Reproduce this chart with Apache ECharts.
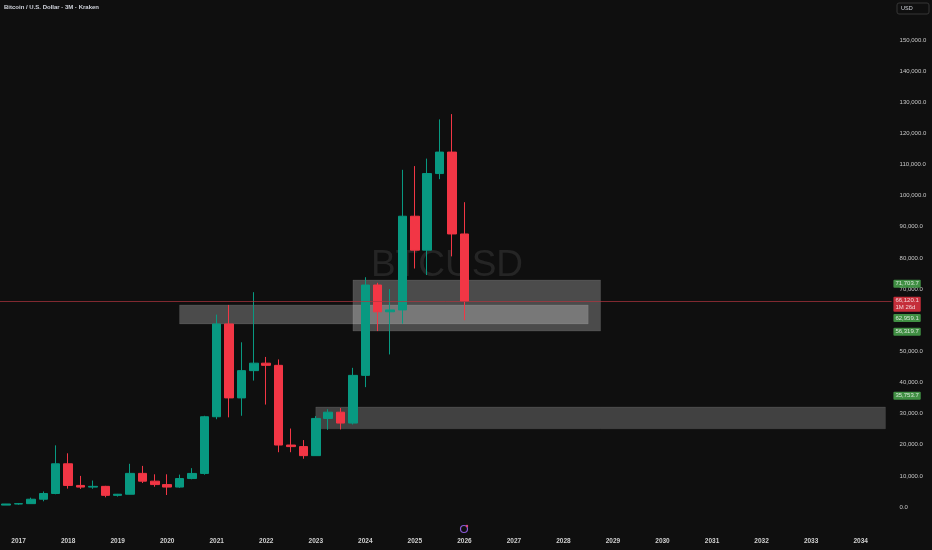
<!DOCTYPE html>
<html>
<head>
<meta charset="utf-8">
<script src="https://cdn.jsdelivr.net/npm/echarts@6/dist/echarts.min.js"></script>
<style>
html,body{margin:0;padding:0;background:#0f0f0f;}
#chart{width:932px;height:550px;}
</style>
</head>
<body>
<div id="chart"></div>
<script>
// ---- data ----
const firstYear = 2016, firstQuarter = 4, categoryCount = 72;
const opens  = [609, 964, 1079, 2500, 4340, 13880, 6930, 6390, 6630, 3740, 4100, 10800, 8300, 7200, 6400, 9140, 10780, 28990, 58800, 35040, 43800, 46200, 45500, 19900, 19400, 16500, 28450, 30450, 26960, 42280, 71300, 62700, 63300, 93400, 82500, 107100, 114000, 87700];
const highs  = [979, 1290, 3000, 4980, 19800, 17250, 9990, 8500, 6800, 4200, 13880, 13200, 10500, 10500, 10400, 12480, 29300, 61800, 64900, 52900, 69000, 48200, 47400, 25200, 21500, 29200, 31400, 31800, 44700, 73800, 72000, 70000, 108300, 109500, 111900, 124500, 126200, 97900];
const lows   = [600, 750, 1000, 1830, 4100, 5900, 5800, 5850, 3120, 3350, 4050, 7700, 6500, 3850, 6150, 8900, 10370, 28200, 28800, 29300, 40600, 32900, 17600, 17600, 15500, 16500, 24800, 24900, 26500, 38500, 56500, 49000, 58900, 76600, 74500, 105300, 80500, 60000];
const closes = [964, 1079, 2500, 4340, 13880, 6930, 6390, 6630, 3740, 4100, 10800, 8300, 7200, 6400, 9140, 10780, 28990, 58800, 35040, 43800, 46200, 45500, 19900, 19400, 16500, 28450, 30450, 26960, 42280, 71300, 62700, 63300, 93400, 82500, 107100, 114000, 87700, 66120.1];
const yTicks = [0, 10000, 20000, 30000, 40000, 50000, 60000, 70000, 80000, 90000, 100000, 110000, 120000, 130000, 140000, 150000];
const hiddenTicks = [60000];
// zones: [startCategory, endCategory, low, high]
const zoneStart = ['2020-Q2', '2023-Q4', '2023-Q1'];
const zoneEnd   = ['2028-Q3', '2028-Q4', '2034-Q3'];
const zoneLow   = [58800, 56500, 25100];
const zoneHigh  = [64900, 72900, 32100];
// price tags
const tagValues = [71703.7, 66120.1, 62959.1, 56319.7, 35753.7];
const tagExtra  = ['', '1M 26d', '', '', ''];
const currentPrice = 66120.1;
const title = 'Bitcoin / U.S. Dollar · 3M · Kraken';
const watermark = 'BTCUSD';

// ---- build ----
const categories = [];
{
  let y = firstYear, q = firstQuarter;
  for (let i = 0; i < categoryCount; i++) {
    categories.push(y + '-Q' + q);
    q++; if (q > 4) { q = 1; y++; }
  }
}
const candleData = opens.map((o, i) => [o, closes[i], lows[i], highs[i]]);
const fmt = v => Number(v).toLocaleString('en-US', {minimumFractionDigits: 1, maximumFractionDigits: 1});

const UP = '#089981', DOWN = '#f23645';
const tagColors = ['#4caf50', DOWN, '#4caf50', '#4caf50', '#4caf50'];
const tagOffsets = [[0,0],[0,3],[0,7],[0,0],[0,0]];
const lastCat = categories[categories.length - 1];

const chart = echarts.init(document.getElementById('chart'), null, {renderer: 'canvas'});
chart.setOption({
  backgroundColor: '#0f0f0f',
  animation: false,
  grid: {left: -2.6, right: 40.4, top: 40, bottom: 43},
  xAxis: {
    type: 'category',
    data: categories,
    boundaryGap: true,
    axisLine: {show: false},
    axisTick: {show: false},
    splitLine: {show: false},
    axisLabel: {
      interval: (i, v) => v.endsWith('Q1'),
      formatter: v => v.slice(0, 4),
      color: '#d0d0d0',
      fontSize: 6.5,
      fontWeight: 'bold',
      fontFamily: 'Liberation Sans',
      margin: 31
    }
  },
  yAxis: {
    type: 'value',
    position: 'right',
    min: 0,
    max: 150000,
    interval: 10000,
    axisLine: {show: false},
    axisTick: {show: false},
    splitLine: {show: false},
    axisLabel: {
      color: '#c8c8c8',
      fontSize: 6,
      fontFamily: 'Liberation Sans',
      margin: 8,
      align: 'left',
      formatter: v => (yTicks.includes(v) && !hiddenTicks.includes(v)) ? fmt(v) : ''
    }
  },
  graphic: [
    {type: 'text', left: 4, top: 4, z: 10, style: {text: title, fill: '#d1d4dc', fontSize: 6, fontWeight: 'bold', fontFamily: 'Liberation Sans'}},
    {type: 'text', x: 447, y: 266, z: 0, style: {text: watermark, fill: '#252525', fontSize: 37, fontFamily: 'Liberation Sans', textAlign: 'center', textVerticalAlign: 'middle'}},
    {type: 'rect', x: 897, y: 3, z: 10, shape: {width: 32, height: 11, r: 2}, style: {fill: '#0f0f0f', stroke: '#363636', lineWidth: 1}},
    {type: 'text', x: 901, y: 8.5, z: 11, style: {text: 'USD', fill: '#d1d4dc', fontSize: 5.5, fontFamily: 'Liberation Sans', textVerticalAlign: 'middle'}},
    {type: 'circle', x: 464, y: 529, z: 10, shape: {r: 3.5}, style: {fill: 'none', stroke: '#8a5bd6', lineWidth: 1.2}},
    {type: 'circle', x: 467, y: 526, z: 11, shape: {r: 1.2}, style: {fill: '#e0457b'}}
  ],
  series: [
    {
      type: 'line',
      data: [],
      z: 1,
      silent: true,
      markArea: {
        silent: true,
        data: zoneStart.map((s, i) => [
          {coord: [s, zoneHigh[i]], itemStyle: {color: i === 2 ? 'rgba(255,255,255,0.21)' : 'rgba(255,255,255,0.25)', borderColor: 'rgba(255,255,255,0.08)', borderWidth: 1}},
          {coord: [zoneEnd[i], zoneLow[i]]}
        ])
      },
      markLine: {
        silent: true,
        symbol: 'none',
        label: {show: false},
        data: [{yAxis: currentPrice, lineStyle: {color: '#b0343f', width: 1, type: 'solid', opacity: 0.7}}]
      }
    },
    {
      type: 'candlestick',
      data: candleData,
      z: 3,
      barWidth: 9,
      itemStyle: {color: UP, color0: DOWN, borderColor: UP, borderColor0: DOWN, borderWidth: 1}
    },
    {
      type: 'scatter',
      z: 5,
      symbolSize: 0,
      silent: true,
      data: tagValues.map((v, i) => ({
        value: [lastCat, v],
        label: {
          show: true,
          position: 'right',
          distance: 8,
          offset: tagOffsets[i],
          formatter: tagExtra[i] ? fmt(v) + '\n' + tagExtra[i] : fmt(v),
          backgroundColor: tagColors[i],
          color: '#ffffff',
          fontSize: 6,
          lineHeight: 7,
          fontFamily: 'Liberation Sans',
          padding: [1, 2, 0, 2],
          borderRadius: 1
        }
      }))
    }
  ]
});
</script>
</body>
</html>
